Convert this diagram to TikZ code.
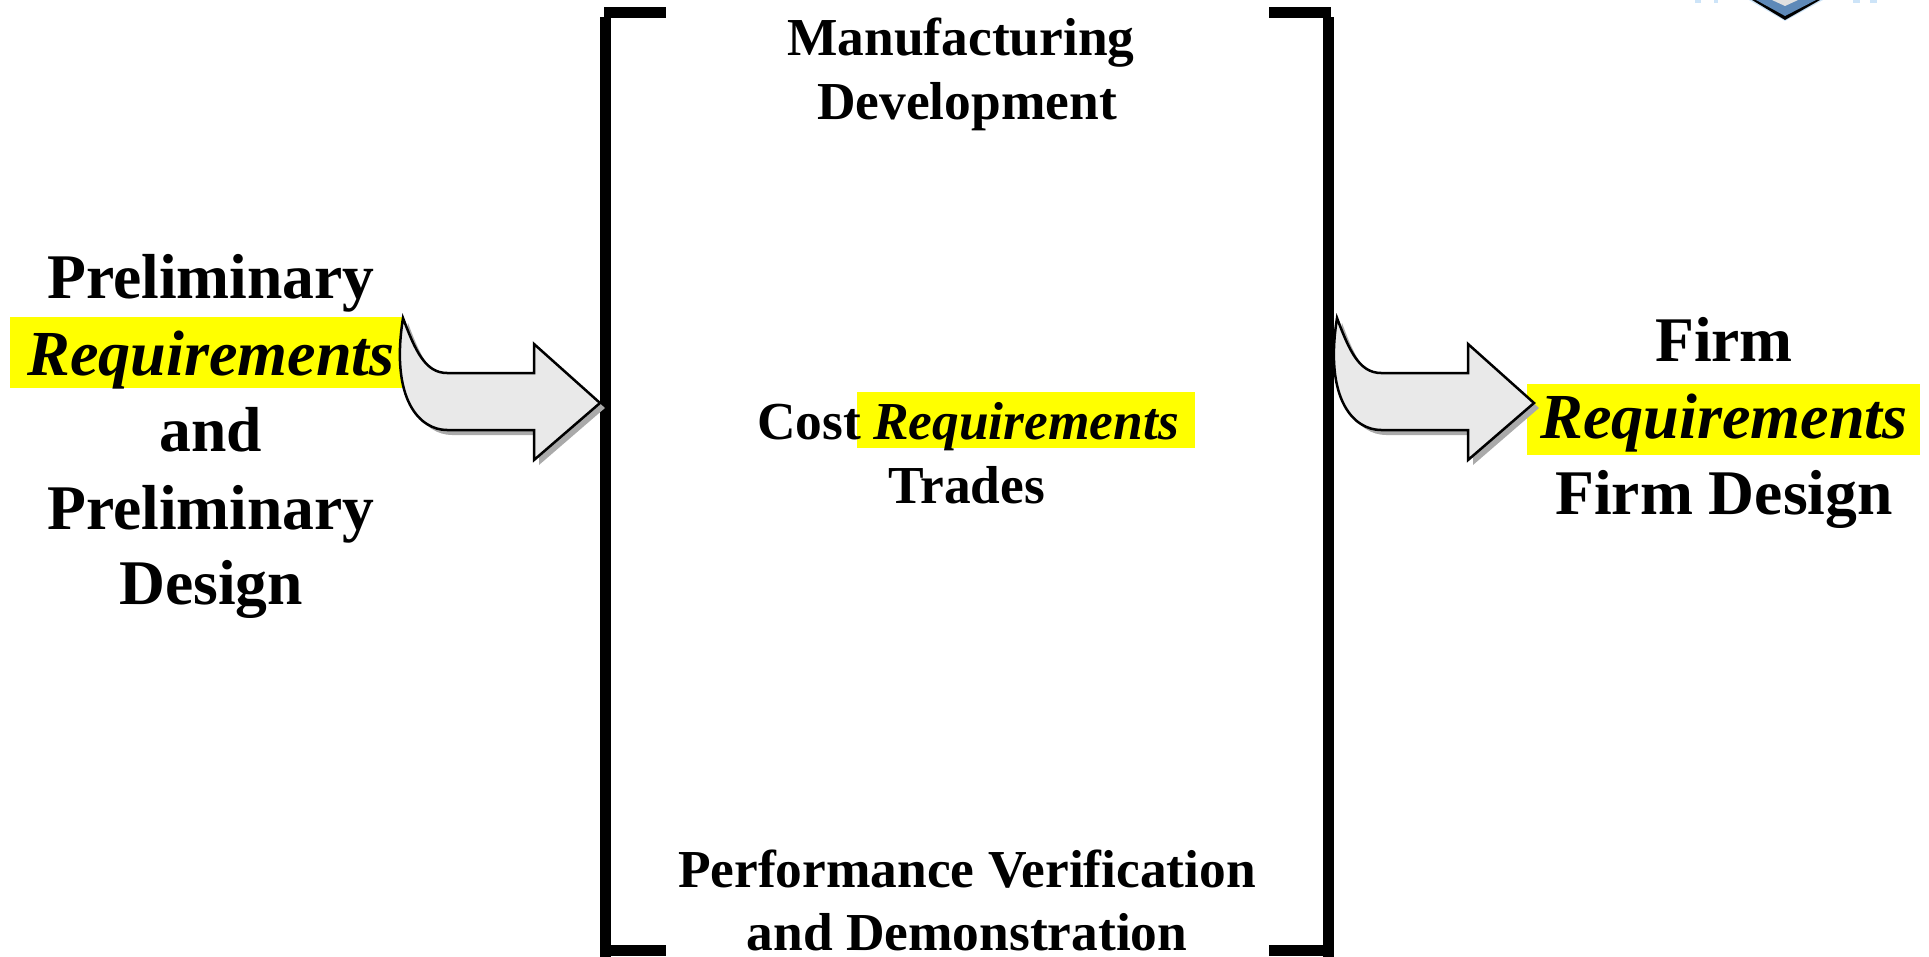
\documentclass[tikz,border=0pt]{standalone}
\usepackage{fontspec}
\setmainfont{Liberation Serif}
\definecolor{hl}{RGB}{255,255,0}
\definecolor{arrowfill}{RGB}{233,233,233}
\definecolor{arrowshadow}{RGB}{170,170,170}
\definecolor{logoblue}{RGB}{94,137,184}
\definecolor{logopale}{RGB}{205,228,248}
\tikzset{
  big/.style={anchor=base,inner sep=0pt,font=\fontsize{63.6}{64}\selectfont\bfseries},
  bigit/.style={anchor=base,inner sep=0pt,font=\fontsize{64.2}{64}\selectfont\bfseries\itshape},
  mid/.style={anchor=base,inner sep=0pt,font=\fontsize{53.4}{54}\selectfont\bfseries},
  midit/.style={anchor=base,inner sep=0pt,font=\fontsize{53.4}{54}\selectfont\bfseries\itshape},
  hlbox/.style={fill=hl,draw=none},
  brack/.style={fill=black,draw=none},
  pale/.style={fill=logopale,draw=none}
}
\newcommand{\archpath}{(403,318) .. controls (415,350) and (425,373) .. (447,373) -- (534,373) -- (534,344) -- (600,403) -- (534,460) -- (534,430) -- (447,430) .. controls (420,430) and (390,400) .. (403,318) -- cycle}
\newcommand{\archarrow}[1]{%
  \begin{scope}[shift={(#1,0)}]
    \fill[arrowshadow,shift={(5,5)}] \archpath;
    \draw[fill=arrowfill,line width=2.5pt,line join=miter] \archpath;
  \end{scope}}
\begin{document}
\begin{tikzpicture}[x=1pt,y=-1pt]
\useasboundingbox (0,0) rectangle (1929,957);
% logo fragment
\fill[logopale] (1749,0) -- (1785,21) -- (1823,0) -- cycle;
\fill[black] (1752,0) -- (1785,20) -- (1820,0) -- cycle;
\fill[logoblue] (1756,0) -- (1785,16) -- (1816,0) -- cycle;
\fill[white!88!black] (1772,0) -- (1785,6) -- (1798,0) -- cycle;
\fill[pale] (1695,0) rectangle (1701,3);
\fill[pale] (1714,0) rectangle (1718,3);
\fill[pale] (1853,0) rectangle (1860,3);
\fill[pale] (1870,0) rectangle (1877,3);
% highlights
\fill[hlbox] (10,317) rectangle (402,388);
\fill[hlbox] (857,392) rectangle (1195,448);
\fill[hlbox] (1527,384) rectangle (1920,455);
% brackets
\fill[brack] (604,7) rectangle (666,18);
\fill[brack] (600,17) rectangle (611,957);
\fill[brack] (604,945) rectangle (666,956);
\fill[brack] (1269,7) rectangle (1331,18);
\fill[brack] (1323,17) rectangle (1334,957);
\fill[brack] (1269,945) rectangle (1331,956);
% arrows
\archarrow{0}
\archarrow{934}
% left text
\node[big] (l1) at (211,299) {Preliminary};
\node[bigit] (l2) at (211,375) {Requirements};
\node[big] (l3) at (211,451) {and};
\node[big] (l4) at (211,529) {Preliminary};
\node[big] (l5) at (211,604) {Design};
% centre text
\node[mid] (c1) at (961,56) {Manufacturing};
\node[mid] (c2) at (967,120) {Development};
\node[mid,anchor=base west] (c3) at (757,439) {Cost};
\node[midit,anchor=base west] (c4) at (873,439) {Requirements};
\node[mid] (c5) at (967,503) {Trades};
\node[mid] (c6) at (967,887) {Performance Verification};
\node[mid] (c7) at (967,950) {and Demonstration};
% right text
\node[big] (r1) at (1724,361) {Firm};
\node[bigit] (r2) at (1724,438) {Requirements};
\node[big] (r3) at (1724,514) {Firm Design};
\end{tikzpicture}
\end{document}
